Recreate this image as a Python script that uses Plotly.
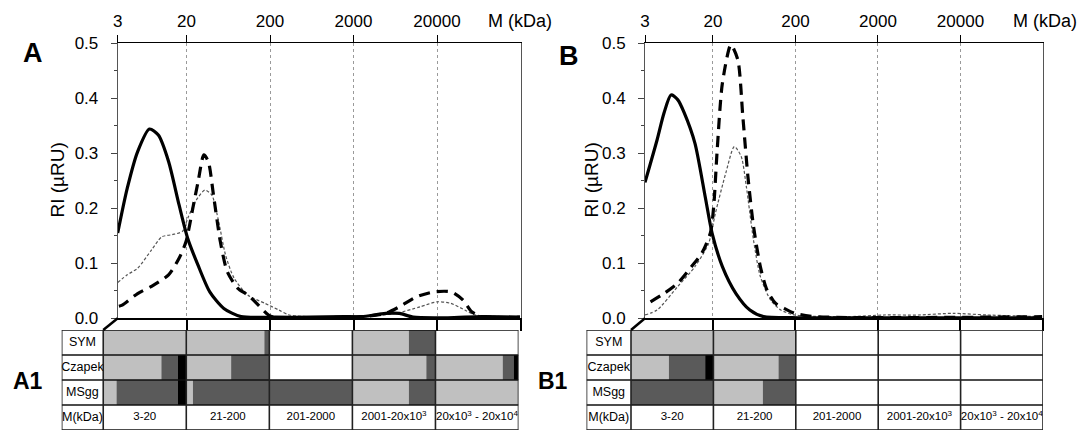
import math
import plotly.graph_objects as go

# ---------------- data ----------------
# Panel A  (M in kDa, RI in µRU)
a_sym_m = [3.0, 3.9, 5.2, 7.2, 9.2, 12.2, 16.3, 20.7, 27.4, 38, 56, 90, 233, 600, 1550, 2500,
           4850, 7100, 10400, 27000, 69000, 197000]
a_sym_ri = [0.155, 0.236, 0.303, 0.344, 0.333, 0.285, 0.206, 0.145, 0.097, 0.048, 0.018, 0.003,
            0.002, 0.002, 0.003, 0.003, 0.009, 0.009, 0.002, 0.001, 0.003, 0.002]

a_cz_m = [3.1, 3.4, 5.2, 7.6, 12.2, 16.3, 19.7, 23.8, 27.5, 32.3, 36.5, 42.1, 50.9, 61.5, 81.8,
          109, 145, 192, 233, 600, 2500, 4850, 7100, 11400, 18400, 29500, 41100, 52100, 69300,
          197000]
a_cz_ri = [0.022, 0.024, 0.045, 0.058, 0.079, 0.109, 0.139, 0.200, 0.248, 0.297, 0.285, 0.224,
           0.139, 0.085, 0.055, 0.042, 0.024, 0.006, 0.001, 0.001, 0.003, 0.009, 0.021, 0.039,
           0.048, 0.048, 0.033, 0.012, 0.003, 0.002]

a_ms_m = [3.0, 3.9, 5.2, 7.6, 10.1, 13.5, 17.9, 20.7, 26.2, 33.2, 40.2, 48.5, 58.7, 74.3, 109,
          175, 256, 340, 600, 2500, 6460, 12600, 20200, 29500, 43100, 57300, 197000]
a_ms_ri = [0.065, 0.079, 0.091, 0.124, 0.148, 0.152, 0.158, 0.182, 0.215, 0.233, 0.224, 0.176,
           0.115, 0.073, 0.042, 0.027, 0.015, 0.006, 0.003, 0.003, 0.009, 0.021, 0.030, 0.027,
           0.015, 0.006, 0.003]

# Panel B
b_sym_m = [3.0, 4.2, 5.1, 6.2, 7.5, 9.0, 12.1, 16.1, 19.5, 26, 38, 56, 82, 214, 2360, 195000]
b_sym_ri = [0.247, 0.324, 0.373, 0.406, 0.397, 0.373, 0.318, 0.221, 0.155, 0.094, 0.045, 0.015,
            0.003, 0.001, 0.001, 0.001]

b_cz_m = [3.5, 5.1, 7.5, 11, 14.6, 18.6, 20.4, 22.5, 26, 33, 40, 46, 53, 62, 75, 90, 115, 146,
          195, 347, 195000]
b_cz_ri = [0.030, 0.045, 0.064, 0.094, 0.118, 0.155, 0.203, 0.306, 0.427, 0.497, 0.470, 0.367,
           0.258, 0.167, 0.094, 0.052, 0.027, 0.018, 0.009, 0.003, 0.003]

b_ms_m = [3.0, 4.2, 7.5, 12.1, 17.7, 21.4, 28.6, 36.3, 44, 50.8, 62, 75, 100, 133, 195, 904,
          2360, 6170, 16100, 42000, 195000]
b_ms_ri = [0.006, 0.015, 0.058, 0.094, 0.136, 0.191, 0.264, 0.312, 0.294, 0.239, 0.142, 0.076,
           0.033, 0.015, 0.006, 0.003, 0.006, 0.006, 0.009, 0.006, 0.003]

# axis ticks
top_tick_vals = [3, 20, 200, 2000, 20000]
top_tick_text = ["3", "20", "200", "2000", "20000"]
bottom_tick_vals = [20, 200, 2000, 20000, 200000]
y_tick_vals = [0.0, 0.1, 0.2, 0.3, 0.4, 0.5]
y_tick_text = ["0.0", "0.1", "0.2", "0.3", "0.4", "0.5"]
y_minor_vals = [0.05, 0.15, 0.25, 0.35, 0.45]

# tables: per row, per mass-range column -> [light grey, dark grey, black] fractions
row_names = ["SYM", "Czapek", "MSgg"]
range_labels = ["3-20", "21-200", "201-2000", "2001-20x10<sup>3</sup>",
                "20x10<sup>3</sup> - 20x10<sup>4</sup>"]
table_a = {
    "SYM":    [[1.00, 0.00, 0.00], [0.94, 0.06, 0.00], [0, 0, 0], [0.68, 0.32, 0.00], [0, 0, 0]],
    "Czapek": [[0.70, 0.20, 0.10], [0.54, 0.46, 0.00], [0, 0, 0], [0.89, 0.11, 0.00], [0.81, 0.13, 0.06]],
    "MSgg":   [[0.16, 0.74, 0.10], [0.08, 0.92, 0.00], [0.00, 1.00, 0.00], [0.68, 0.32, 0.00], [1.00, 0.00, 0.00]],
}
table_b = {
    "SYM":    [[1.00, 0.00, 0.00], [1.00, 0.00, 0.00], [0, 0, 0], [0, 0, 0], [0, 0, 0]],
    "Czapek": [[0.46, 0.44, 0.10], [0.79, 0.21, 0.00], [0, 0, 0], [0, 0, 0], [0, 0, 0]],
    "MSgg":   [[0.00, 1.00, 0.00], [0.60, 0.40, 0.00], [0, 0, 0], [0, 0, 0], [0, 0, 0]],
}

# ---------------- styling ----------------
W, H = 1080, 430
BASE = "Liberation Sans, Arial, sans-serif"
NARROW = "Liberation Sans Narrow, Arial Narrow, Liberation Sans, sans-serif"
SEG_COLORS = ["#c0c0c0", "#5a5a5a", "#000000"]


def px(x):
    return x / W


def py(y):
    return 1 - y / H


PLOT_Y = [py(318.3), py(43.2)]
A_X = [px(117.7), px(520.5)]
B_X = [px(645.0), px(1043.0)]
TAB_Y = [0.0, py(330)]
TA_X = [px(61.7), px(518.5)]
TB_X = [px(586.5), px(1043.0)]
TA_LABW = 0.50
TB_LABW = 0.54
XR = [math.log10(3), math.log10(200000)]

fig = go.Figure()

series_style = {
    "solid": dict(color="black", width=3.2),
    "dashed": dict(color="black", width=3.2, dash="11px,7px"),
    "dotted": dict(color="#555555", width=1.2, dash="3px,2px"),
}


def add_curves(xa, ya, xtop, data):
    for (m, ri, style, name) in data:
        fig.add_trace(go.Scatter(
            x=m, y=ri, mode="lines", name=name, xaxis=xa, yaxis=ya,
            line=dict(shape="spline", smoothing=0.7, **series_style[style]),
            showlegend=False, hoverinfo="skip"))
    # invisible trace so the top (labelled) log axis is rendered
    fig.add_trace(go.Scatter(x=top_tick_vals, y=[0] * len(top_tick_vals), mode="markers",
                             marker=dict(opacity=0), xaxis=xtop, yaxis=ya,
                             showlegend=False, hoverinfo="skip"))


add_curves("x", "y", "x3", [(a_ms_m, a_ms_ri, "dotted", "MSgg"),
                            (a_cz_m, a_cz_ri, "dashed", "Czapek"),
                            (a_sym_m, a_sym_ri, "solid", "SYM")])
add_curves("x2", "y2", "x4", [(b_ms_m, b_ms_ri, "dotted", "MSgg"),
                              (b_cz_m, b_cz_ri, "dashed", "Czapek"),
                              (b_sym_m, b_sym_ri, "solid", "SYM")])


def add_table(table, xa, ya, labw):
    row_y = {name: 3.5 - i for i, name in enumerate(row_names)}
    for k, color in enumerate(SEG_COLORS):
        ys, xs, bases = [], [], []
        for name in row_names:
            for c, seg in enumerate(table[name]):
                if seg[k] > 0:
                    ys.append(row_y[name])
                    xs.append(seg[k])
                    bases.append(c + sum(seg[:k]))
        fig.add_trace(go.Bar(orientation="h", y=ys, x=xs, base=bases, width=1,
                             marker=dict(color=color, line=dict(width=0)),
                             xaxis=xa, yaxis=ya, showlegend=False, hoverinfo="skip"))
    # row labels
    fig.add_trace(go.Scatter(
        x=[-labw / 2] * 4, y=[3.5, 2.5, 1.5, 0.5], text=row_names + ["M(kDa)"],
        mode="text", textfont=dict(family=NARROW, size=12.5, color="black"),
        xaxis=xa, yaxis=ya, showlegend=False, hoverinfo="skip", cliponaxis=False))
    fig.add_trace(go.Scatter(
        x=[c + 0.5 for c in range(len(range_labels))], y=[0.5] * len(range_labels),
        text=range_labels, mode="text",
        textfont=dict(family=NARROW, size=11.5, color="black"),
        xaxis=xa, yaxis=ya, showlegend=False, hoverinfo="skip", cliponaxis=False))
    # cell borders
    ncol = len(range_labels)
    for r in range(5):
        fig.add_shape(type="line", xref=xa, yref=ya, x0=-labw, x1=ncol, y0=r, y1=r,
                      line=dict(color="#111", width=1.6), layer="above")
    for c in [-labw] + list(range(ncol + 1)):
        fig.add_shape(type="line", xref=xa, yref=ya, x0=c, x1=c, y0=0, y1=4,
                      line=dict(color="#222", width=1.6), layer="above")


add_table(table_a, "x5", "y5", TA_LABW)
add_table(table_b, "x6", "y6", TB_LABW)


def bottom_axis(domain, anchor):
    return dict(domain=domain, anchor=anchor, type="log", range=XR, tickvals=bottom_tick_vals,
                showticklabels=False, ticks="outside", ticklen=11, tickwidth=2,
                tickcolor="black", showline=True, linecolor="black", linewidth=2,
                showgrid=True, gridcolor="#9a9a9a", griddash="dot", gridwidth=1,
                zeroline=False, fixedrange=True, automargin=False)


def top_axis(over, anchor):
    return dict(overlaying=over, anchor=anchor, side="top", type="log", range=XR,
                tickvals=top_tick_vals, ticktext=top_tick_text, ticks="outside",
                ticklen=7, tickwidth=1, tickcolor="black", showline=True,
                linecolor="black", linewidth=1, showgrid=False, zeroline=False,
                tickfont=dict(family=BASE, size=17, color="black"),
                ticklabelstandoff=1, automargin=False)


def y_axis(anchor):
    return dict(domain=PLOT_Y, anchor=anchor, range=[0, 0.5], tickvals=y_tick_vals,
                ticktext=y_tick_text, ticks="outside", ticklen=6, tickwidth=1,
                tickcolor="#444", showline=True, linecolor="#555", linewidth=1,
                mirror=True, showgrid=False, zeroline=False,
                minor=dict(tickvals=y_minor_vals, ticks="outside", ticklen=3,
                           tickcolor="#444", showgrid=False),
                tickfont=dict(family=BASE, size=17, color="black"),
                ticklabelstandoff=9, automargin=False)


def table_axis(domain, rng, anchor):
    return dict(domain=domain, range=rng, visible=False, fixedrange=True, anchor=anchor,
                automargin=False)


def note(text, x, y, size, angle=0):
    return dict(text=text, x=px(x), y=py(y), xref="paper", yref="paper", showarrow=False,
                xanchor="center", yanchor="middle", textangle=angle,
                font=dict(family=BASE, size=size, color="black"))


annotations = [
    note("<b>A</b>", 32.5, 53, 27), note("<b>B</b>", 569, 56, 27),
    note("<b>A1</b>", 28, 381, 23), note("<b>B1</b>", 553, 381, 23),
    note("M (kDa)", 520, 21, 18), note("M (kDa)", 1045, 21, 18),
    note("RI (\u00b5RU)", 57, 180.5, 19, -90), note("RI (\u00b5RU)", 591, 180.5, 19, -90),
]

fig.update_layout(
    width=W, height=H, margin=dict(l=0, r=0, t=0, b=0, pad=0, autoexpand=False),
    paper_bgcolor="white", plot_bgcolor="rgba(0,0,0,0)",
    barmode="overlay", showlegend=False,
    font=dict(family=BASE, size=16, color="black"),
    xaxis=bottom_axis(A_X, "y"), xaxis2=bottom_axis(B_X, "y2"),
    xaxis3=top_axis("x", "y"), xaxis4=top_axis("x2", "y2"),
    yaxis=y_axis("x"), yaxis2=y_axis("x2"),
    xaxis5=table_axis(TA_X, [-TA_LABW, 5], "y5"),
    yaxis5=table_axis(TAB_Y, [0, 4], "x5"),
    xaxis6=table_axis(TB_X, [-TB_LABW, 5], "y6"),
    yaxis6=table_axis(TAB_Y, [0, 4], "x6"),
    annotations=annotations,
)

# break marks joining each table to the origin of its chart
for tx, labw, plx in [(TA_X, TA_LABW, A_X), (TB_X, TB_LABW, B_X)]:
    x0 = tx[0] + (tx[1] - tx[0]) * labw / (5 + labw)
    fig.add_shape(type="line", xref="paper", yref="paper", x0=x0, y0=TAB_Y[1],
                  x1=plx[0], y1=PLOT_Y[0], line=dict(color="black", width=2.5))

fig.write_html("out.html", config={"responsive": False, "displayModeBar": False},
               post_script="document.body.style.margin='0';document.body.style.overflow='hidden';")
